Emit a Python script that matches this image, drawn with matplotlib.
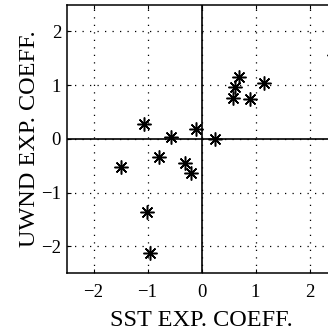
import matplotlib.pyplot as plt

# expansion coefficients
sst_coeff = [-1.07, -0.57, -0.11, 0.25, -1.50, -0.79, -0.30, -0.20,
             -1.01, -0.96, 0.70, 0.62, 0.58, 0.89, 1.15, 2.45]
uwnd_coeff = [0.27, 0.04, 0.18, 0.00, -0.53, -0.33, -0.44, -0.64,
              -1.36, -2.13, 1.16, 0.97, 0.77, 0.74, 1.04, 1.56]
ticks = [-2, -1, 0, 1, 2]

plt.rcParams['font.family'] = ['Liberation Serif', 'DejaVu Serif']

fig = plt.figure(figsize=(3.28, 3.30), dpi=100)
# right part of the axes runs off the picture, as in the reference
ax = fig.add_axes([0.203, 0.172, 0.823, 0.814])

ax.axhline(0, color="black", linewidth=1.2, zorder=1)
ax.axvline(0, color="black", linewidth=1.2, zorder=1)
ax.plot(sst_coeff, uwnd_coeff, linestyle="none", marker=(8, 2, 0),
        markersize=10, markeredgewidth=1.1, color="black", zorder=3)

ax.set_xlim(-2.5, 2.5)
ax.set_ylim(-2.5, 2.5)
ax.set_xticks(ticks)
ax.set_yticks(ticks)
ax.grid(True, color="black", linestyle=(0, (1, 5)), linewidth=0.9)
ax.tick_params(direction="in", length=3, width=0.8, labelsize=13.5,
               top=True, right=True)
ax.tick_params(axis="x", pad=8)
ax.tick_params(axis="y", pad=4)
for s in ax.spines.values():
    s.set_linewidth(1.1)

ax.set_xlabel("SST EXP. COEFF.", fontsize=17.5, labelpad=6)
ax.set_ylabel("UWND EXP. COEFF.", fontsize=17.5, labelpad=1)

fig.savefig("out.png", dpi=100)
